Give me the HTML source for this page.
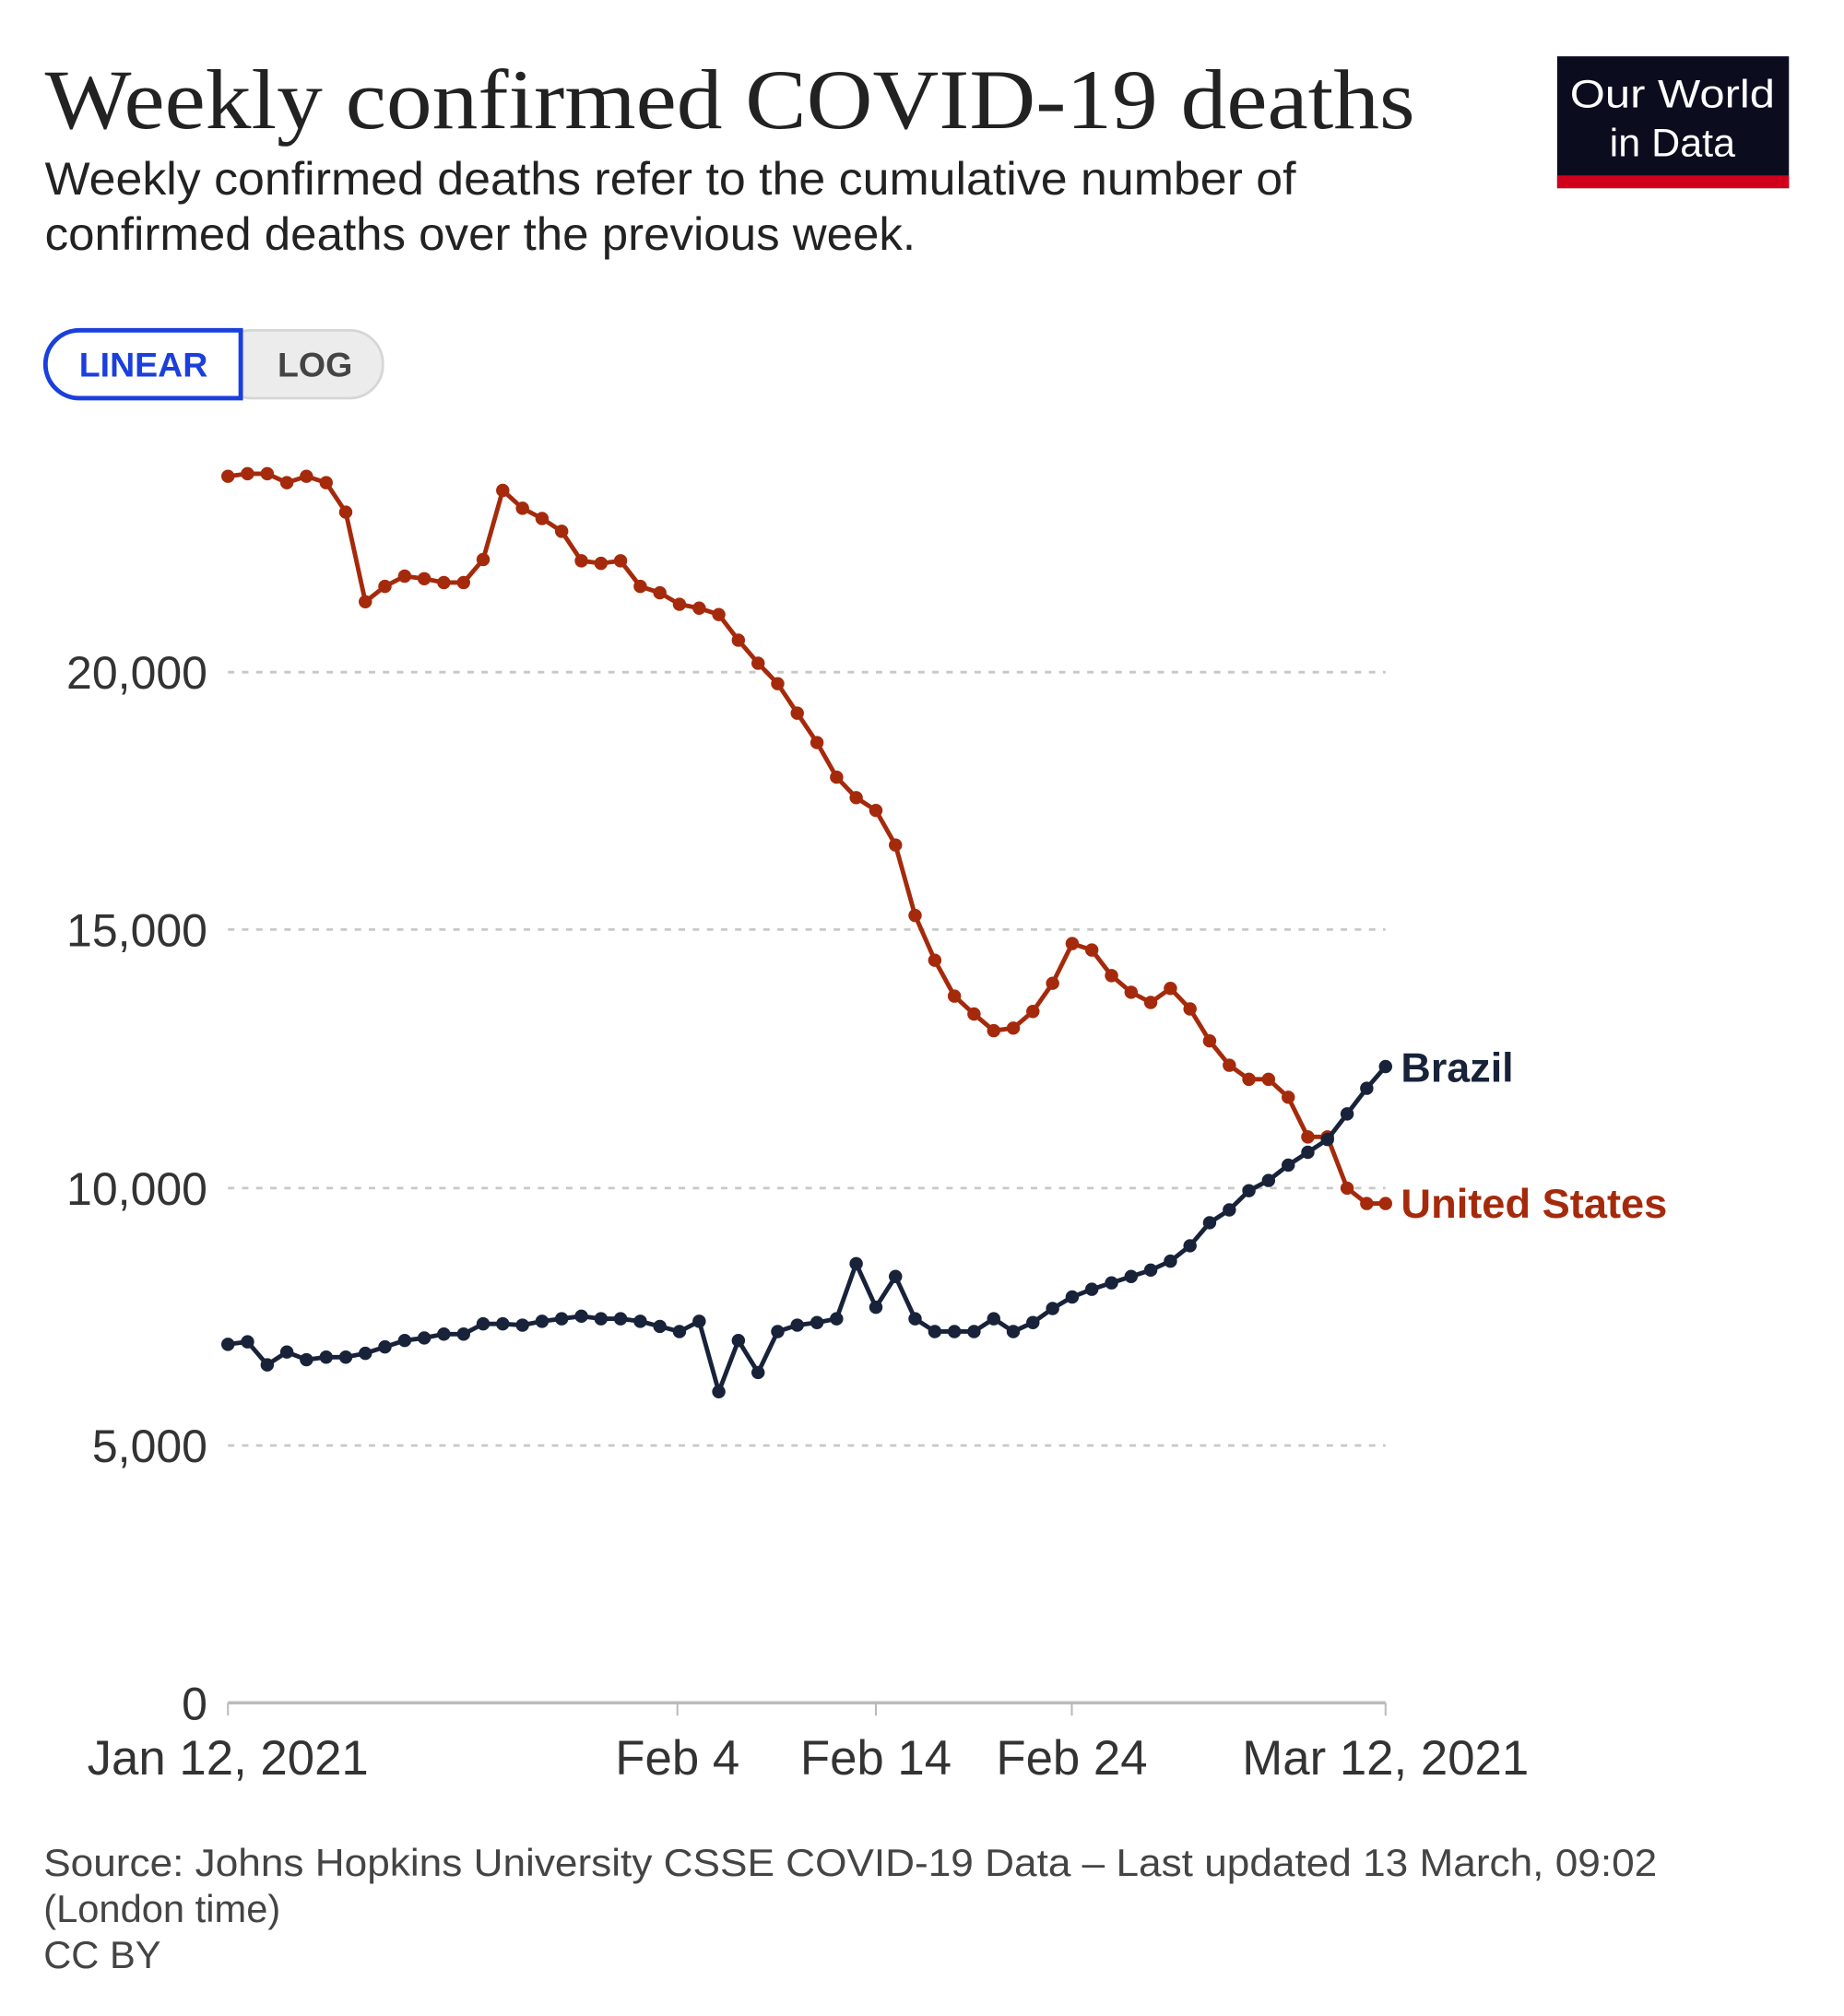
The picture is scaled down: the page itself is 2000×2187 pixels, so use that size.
<!DOCTYPE html>
<html><head><meta charset="utf-8"><style>
html,body{margin:0;padding:0;background:#fff;}
svg{display:block;}
</style></head><body>
<svg width="2000" height="2187" viewBox="0 0 1440 1574.6" preserveAspectRatio="none" xmlns="http://www.w3.org/2000/svg">
<defs>
<marker id="mu" viewBox="-6 -6 12 12" markerWidth="12" markerHeight="12" markerUnits="userSpaceOnUse"><circle r="5.2" fill="#a52a0c"/></marker>
<marker id="mb" viewBox="-6 -6 12 12" markerWidth="12" markerHeight="12" markerUnits="userSpaceOnUse"><circle r="5.2" fill="#18233a"/></marker>
</defs>
<rect width="1440" height="1575" fill="#fff"/>
<text x="35" y="100" font-family="Liberation Serif, serif" font-size="66" fill="#222" textLength="1070" lengthAdjust="spacingAndGlyphs">Weekly confirmed COVID-19 deaths</text>
<text x="35" y="152" font-family="Liberation Sans, sans-serif" font-size="36" fill="#222" textLength="977" lengthAdjust="spacingAndGlyphs">Weekly confirmed deaths refer to the cumulative number of</text>
<text x="35" y="195" font-family="Liberation Sans, sans-serif" font-size="36" fill="#222" textLength="680" lengthAdjust="spacingAndGlyphs">confirmed deaths over the previous week.</text>
<rect x="1216" y="44" width="181" height="103" fill="#0b0c1e"/>
<rect x="1216" y="137" width="181" height="10" fill="#d0001c"/>
<text x="1306" y="84" text-anchor="middle" font-family="Liberation Sans, sans-serif" font-size="31" fill="#fff" textLength="160" lengthAdjust="spacingAndGlyphs">Our World</text>
<text x="1306" y="122" text-anchor="middle" font-family="Liberation Sans, sans-serif" font-size="31" fill="#fff">in Data</text>
<rect x="170" y="258" width="129" height="53" rx="26" fill="#ececec" stroke="#d6d6d6" stroke-width="2"/>
<path d="M188,258 L62,258 A26.5,26.5 0 0 0 62,311 L188,311 Z" fill="#fff" stroke="#1a3fdc" stroke-width="3.5"/>
<text x="112" y="294" text-anchor="middle" font-family="Liberation Sans, sans-serif" font-weight="bold" font-size="27" fill="#1a3fdc">LINEAR</text>
<text x="246" y="294" text-anchor="middle" font-family="Liberation Sans, sans-serif" font-weight="bold" font-size="27" fill="#444">LOG</text>
<g stroke="#c8c8c8" stroke-width="2" stroke-dasharray="5,6">
<line x1="178" y1="525" x2="1082" y2="525"/>
<line x1="178" y1="726" x2="1082" y2="726"/>
<line x1="178" y1="928" x2="1082" y2="928"/>
<line x1="178" y1="1129" x2="1082" y2="1129"/>
</g>
<line x1="178" y1="1330" x2="1082" y2="1330" stroke="#bbb" stroke-width="2.5"/>
<g stroke="#bbb" stroke-width="1.5">
<line x1="178" y1="1330" x2="178" y2="1340"/><line x1="529" y1="1330" x2="529" y2="1340"/><line x1="684" y1="1330" x2="684" y2="1340"/><line x1="837" y1="1330" x2="837" y2="1340"/><line x1="1082" y1="1330" x2="1082" y2="1340"/>
</g>
<g font-family="Liberation Sans, sans-serif" font-size="36" fill="#333" text-anchor="end">
<text x="162" y="538">20,000</text><text x="162" y="739">15,000</text><text x="162" y="941">10,000</text><text x="162" y="1142">5,000</text><text x="162" y="1343">0</text>
</g>
<g font-family="Liberation Sans, sans-serif" font-size="38" fill="#333" text-anchor="middle">
<text x="178" y="1386">Jan 12, 2021</text><text x="529" y="1386">Feb 4</text><text x="684" y="1386">Feb 14</text><text x="837" y="1386">Feb 24</text><text x="1082" y="1386">Mar 12, 2021</text>
</g>
<polyline fill="none" stroke="#a52a0c" stroke-width="3.5" stroke-linejoin="round" marker-start="url(#mu)" marker-mid="url(#mu)" marker-end="url(#mu)" points="178,372 193.3,370 208.7,370 224,377 239.3,372 254.7,377 270,400 285.3,470 300.6,458 316,450 331.3,452 346.6,455 362,455 377.3,437 392.6,383 408,397 423.3,405 438.6,415 454,438 469.3,440 484.6,438 500,458 515.3,463 530.6,472 546,475 561.3,480 576.6,500 592,518 607.3,534 622.6,557 638,580 653.3,607 668.6,623 684,633 699.3,660 714.6,715 730,750 745.3,778 760.6,792 776,805 791.3,803 806.6,790 822,768 837.3,737 852.6,742 868,762 883.3,775 898.6,783 914,772 929.3,788 944.6,813 960,832 975.3,843 990.6,843 1006,857 1021.3,888 1036.6,888 1052,928 1067.3,940 1082,940"/>
<polyline fill="none" stroke="#18233a" stroke-width="3.5" stroke-linejoin="round" marker-start="url(#mb)" marker-mid="url(#mb)" marker-end="url(#mb)" points="178,1050 193.3,1048 208.7,1066 224,1056 239.3,1062 254.7,1060 270,1060 285.3,1057 300.6,1052 316,1047 331.3,1045 346.6,1042 362,1042 377.3,1034 392.6,1034 408,1035 423.3,1032 438.6,1030 454,1028 469.3,1030 484.6,1030 500,1032 515.3,1036 530.6,1040 546,1032 561.3,1087 576.6,1047 592,1072 607.3,1040 622.6,1035 638,1033 653.3,1030 668.6,987 684,1021 699.3,997 714.6,1030 730,1040 745.3,1040 760.6,1040 776,1030 791.3,1040 806.6,1033 822,1022 837.3,1013 852.6,1007 868,1002 883.3,997 898.6,992 914,985 929.3,973 944.6,955 960,945 975.3,930 990.6,922 1006,910 1021.3,900 1036.6,890 1052,870 1067.3,850 1082,833"/>
<text x="1094" y="845" font-family="Liberation Sans, sans-serif" font-size="32" font-weight="bold" fill="#18233a" textLength="88" lengthAdjust="spacingAndGlyphs">Brazil</text>
<text x="1094" y="951" font-family="Liberation Sans, sans-serif" font-size="32" font-weight="bold" fill="#a52a0c" textLength="208" lengthAdjust="spacingAndGlyphs">United States</text>
<g font-family="Liberation Sans, sans-serif" font-size="30" fill="#444">
<text x="34" y="1465" textLength="1260" lengthAdjust="spacingAndGlyphs">Source: Johns Hopkins University CSSE COVID-19 Data – Last updated 13 March, 09:02</text>
<text x="34" y="1501">(London time)</text>
<text x="34" y="1537">CC BY</text>
</g>
</svg>
</body></html>
